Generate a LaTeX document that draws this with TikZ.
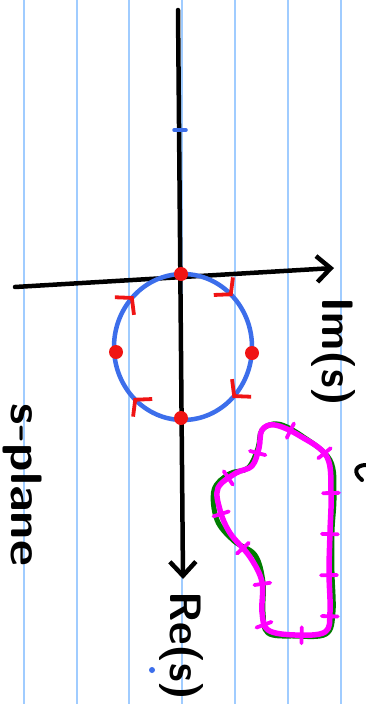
\documentclass[tikz,border=0pt]{standalone}
\usepackage{tikz}
\usetikzlibrary{arrows.meta,decorations.markings}
\definecolor{ColRule}{RGB}{160,204,255}
\definecolor{ColPath}{RGB}{60,110,235}
\definecolor{ColPole}{RGB}{240,20,20}
\definecolor{ColMap}{RGB}{255,0,255}
\definecolor{ColLocus}{RGB}{0,125,0}

\begin{document}
\begin{tikzpicture}[
  x=1pt, y=-1pt,
  >={Straight Barb[length=14pt,width=26pt]},
  line cap=round,
  line join=round,
  every node/.style={font=\sffamily\bfseries\fontsize{44}{44}\selectfont, inner sep=0pt}
]
  \useasboundingbox (0,0) rectangle (366,704);
  \fill[white] (0,0) rectangle (366,704);

  % Ruled paper (vertical in this view)
  \foreach \xx in {24,77,129,182,235,288,341}{
    \draw[ColRule, line width=2pt] (\xx,0) -- (\xx,704);
  }

  \coordinate (retop)  at (178,10);
  \coordinate (retip)  at (183,579);
  \coordinate (imleft) at (15,287);
  \coordinate (imtip)  at (334,268);
  \coordinate (c0)     at (183,347);
  \coordinate (ptop)   at (181,274);
  \coordinate (pbot)   at (181,418);
  \coordinate (pleft)  at (116,352);
  \coordinate (pright) at (252,353);

  % Axes
  \draw[->, line width=4.5pt] (retop) -- (retip);
  \draw[->, line width=4.5pt] (imleft) -- (imtip);
  \draw[ColPath, line width=3.5pt] (174,130) -- (186,130);

  % Contour round the origin, clockwise
  \draw[ColPath, line width=4.5pt, postaction={decorate},
    decoration={markings, mark=between positions 0.125 and 0.875 step 0.25 with
      {\arrow[ColPole, line width=3.8pt]{Straight Barb[length=11pt,width=26pt]}}}]
    (c0) ellipse [x radius=69, y radius=73];

  \foreach \pt in {ptop, pbot, pleft, pright}{
    \fill[ColPole] (\pt) circle (7);
  }

  % Image of the contour
  \draw[ColLocus, line width=5pt] plot[smooth cycle, tension=0.6] coordinates {
    (262,430) (278,424) (302,436) (330,460) (334,495) (332,532) (332,572)
    (333,612) (326,634) (295,636) (268,633) (263,612) (263,582) (255,555)
    (234,541) (217,520) (214,490) (229,474) (248,468) (258,448)};
  \draw[ColMap, line width=5.5pt, postaction={decorate},
    decoration={markings, mark=between positions 0.03 and 0.99 step 0.075 with
      {\draw[ColMap, line width=3.8pt] (0,-8pt) -- (0,8pt);}}]
    plot[smooth cycle, tension=0.6] coordinates {
    (262,430) (275,425) (300,436) (327,457) (331,495) (330,532) (329,572)
    (330,612) (325,632) (295,635) (268,630) (262,612) (262,582) (250,557)
    (230,533) (220,510) (218,488) (236,473) (252,466) (259,448)};

  % Labels
  \node[rotate=-90] (imlabel) at (333,352) {Im(s)};
  \node[rotate=-90] (relabel) at (181,646) {Re(s)};
  \node[rotate=-90, xscale=1.15] (planelabel) at (22,485) {s-plane};

  \draw[line width=4pt] (366,465) .. controls (356,465) and (352,472) .. (362,480);
  \fill[ColPath] (152,670) circle (3);
\end{tikzpicture}
\end{document}
